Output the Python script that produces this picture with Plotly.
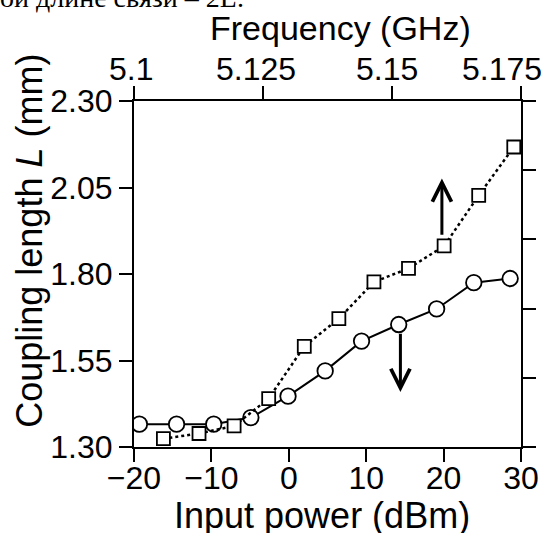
import plotly.graph_objects as go

# ---- data ----
power_dbm = [-19.3, -14.5, -9.7, -4.9, -0.1, 4.7, 9.4, 14.2, 19.1, 23.9, 28.6]
L_vs_power = [1.366, 1.366, 1.366, 1.385, 1.447, 1.520, 1.606, 1.654, 1.699, 1.775, 1.787]

freq_ghz = [5.1057, 5.1126, 5.1194, 5.1261, 5.1330, 5.1397, 5.1465, 5.1532, 5.1601, 5.1668, 5.1736]
L_vs_freq = [1.324, 1.339, 1.361, 1.440, 1.591, 1.671, 1.777, 1.816, 1.881, 2.027, 2.167]

x_ticks = [-20, -10, 0, 10, 20, 30]
x_ticktext = ["\u221220", "\u221210", "0", "10", "20", "30"]
f_ticks = [5.1, 5.125, 5.15, 5.175]
f_ticktext = ["5.1", "5.125", "5.15", "5.175"]
y_ticks = [1.30, 1.55, 1.80, 2.05, 2.30]
y_ticktext = ["1.30", "1.55", "1.80", "2.05", "2.30"]

# arrows (x in dBm, y in mm): tail -> head
arrow_up = dict(x=19.78, y_tail=1.909, y_head=2.076)
arrow_down = dict(x=14.42, y_tail=1.632, y_head=1.459)

# style: horizontal offsets (px) of the top tick labels, as in the reference
f_label_xshift = [-3.5, -7.5, -5, -19.4]

FONT = "Liberation Sans"
BLACK = "#000000"

fig = go.Figure()

fig.add_trace(go.Scatter(
    x=power_dbm, y=L_vs_power, xaxis="x", yaxis="y",
    mode="lines+markers",
    line=dict(color=BLACK, width=2),
    marker=dict(symbol="circle", size=15.5, color="white", line=dict(color=BLACK, width=1.8)),
    showlegend=False,
))
fig.add_trace(go.Scatter(
    x=freq_ghz, y=L_vs_freq, xaxis="x2", yaxis="y",
    mode="lines+markers",
    line=dict(color=BLACK, width=2.5, dash="dot"),
    marker=dict(symbol="square", size=13, color="white", line=dict(color=BLACK, width=1.8)),
    showlegend=False,
))
# empty trace so the right axis is created
fig.add_trace(go.Scatter(x=[], y=[], xaxis="x", yaxis="y2", showlegend=False))

axis_common = dict(
    showline=True, linecolor=BLACK, linewidth=2.2,
    ticks="outside", ticklen=13, tickwidth=2.2, tickcolor=BLACK,
    showgrid=False, zeroline=False,
    tickfont=dict(family=FONT, size=32, color=BLACK),
)

eps = 1e-7
fig.update_layout(
    width=551, height=533,
    margin=dict(l=134, r=28, t=101, b=86),
    paper_bgcolor="white", plot_bgcolor="white",
    xaxis=dict(range=[-20, 30], tickmode="array", tickvals=x_ticks, ticktext=x_ticktext,
               side="bottom", ticklabelstandoff=-12, **axis_common),
    xaxis2=dict(range=[f_ticks[0] - eps, f_ticks[-1] + eps], tickmode="array",
                tickvals=f_ticks, showticklabels=False,
                overlaying="x", side="top", **axis_common),
    yaxis=dict(range=[1.30, 2.30], tickmode="array", tickvals=y_ticks, ticktext=y_ticktext,
               side="left", **axis_common),
    yaxis2=dict(range=[0, 5], tickmode="linear", tick0=0, dtick=1, showticklabels=False,
                overlaying="y", side="right", **axis_common),
)

annotations = [
    dict(text="Frequency (GHz)", xref="paper", yref="paper", x=0.533, y=1.212,
         xanchor="center", yanchor="middle", showarrow=False,
         font=dict(family=FONT, size=34, color=BLACK)),
    dict(text="Input power (dBm)", xref="paper", yref="paper", x=0.4846, y=-0.1994,
         xanchor="center", yanchor="middle", showarrow=False,
         font=dict(family=FONT, size=36, color=BLACK)),
    dict(text="Coupling length <i>L</i> (mm)", xref="paper", yref="paper", x=-0.2701, y=0.5974,
         xanchor="center", yanchor="middle", textangle=-90, showarrow=False,
         font=dict(family=FONT, size=36, color=BLACK)),
    dict(text="ой длине связи – 2L.", xref="paper", yref="paper", x=-0.351, y=1.2997,
         xanchor="left", yanchor="middle", showarrow=False,
         font=dict(family="Liberation Serif", size=28, color=BLACK)),
]
# top-axis tick labels
for fv, ft, dx in zip(f_ticks, f_ticktext, f_label_xshift):
    annotations.append(dict(
        text=ft, x=fv, xref="x2", y=1.0925, yref="paper", xshift=dx,
        xanchor="center", yanchor="middle", showarrow=False,
        font=dict(family=FONT, size=32, color=BLACK)))
for a in (arrow_up, arrow_down):
    annotations.append(dict(
        x=a["x"], y=a["y_head"], ax=a["x"], ay=a["y_tail"],
        xref="x", yref="y", axref="x", ayref="y",
        showarrow=True, arrowhead=5, arrowsize=1.25, arrowwidth=3, arrowcolor=BLACK,
        text="",
    ))
fig.update_layout(annotations=annotations)

fig.write_html("out.html", config={"displayModeBar": False},
               post_script="document.body.style.margin='0';")
